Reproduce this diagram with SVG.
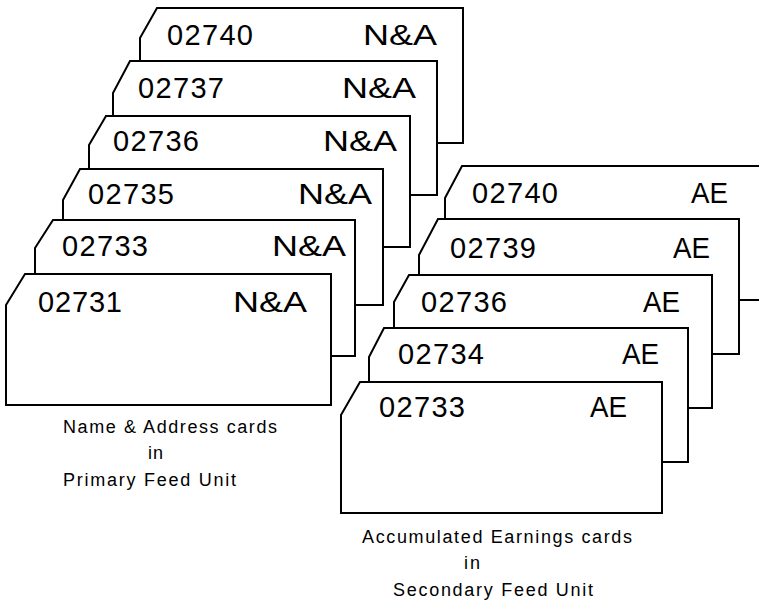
<svg xmlns="http://www.w3.org/2000/svg" width="759" height="603" viewBox="0 0 759 603">
<style>
.card{fill:#fff;stroke:#000;stroke-width:2;stroke-linejoin:miter}
.num{font-family:"Liberation Sans",Arial,sans-serif;font-size:29px;fill:#000}
.cap{font-family:"Liberation Sans",Arial,sans-serif;font-size:18px;fill:#000}
</style>
<rect width="759" height="603" fill="#fff"/>
<g id="na-stack">
<g id="na-02740"><polygon class="card" points="157,8 463,8 463,143 140,143 140,38"/><text class="num" x="167" y="45" textLength="86" lengthAdjust="spacing">02740</text><text class="num" x="363" y="45" textLength="74" lengthAdjust="spacingAndGlyphs">N&amp;A</text></g>
<g id="na-02737"><polygon class="card" points="130,61 437,61 437,195 113,195 113,93"/><text class="num" x="138" y="98" textLength="86" lengthAdjust="spacing">02737</text><text class="num" x="342" y="98" textLength="74" lengthAdjust="spacingAndGlyphs">N&amp;A</text></g>
<g id="na-02736"><polygon class="card" points="106,116 410,116 410,247 89,247 89,145"/><text class="num" x="113" y="151" textLength="86" lengthAdjust="spacing">02736</text><text class="num" x="323" y="151" textLength="74" lengthAdjust="spacingAndGlyphs">N&amp;A</text></g>
<g id="na-02735"><polygon class="card" points="80,169 383,169 383,305 63,305 63,200"/><text class="num" x="88" y="204" textLength="86" lengthAdjust="spacing">02735</text><text class="num" x="298" y="204" textLength="74" lengthAdjust="spacingAndGlyphs">N&amp;A</text></g>
<g id="na-02733"><polygon class="card" points="53,220 355,220 355,356 35,356 35,248"/><text class="num" x="62" y="256" textLength="86" lengthAdjust="spacing">02733</text><text class="num" x="272" y="256" textLength="74" lengthAdjust="spacingAndGlyphs">N&amp;A</text></g>
<g id="na-02731"><polygon class="card" points="25,274 331,274 331,405 6,405 6,305"/><text class="num" x="38" y="312" textLength="84" lengthAdjust="spacing">02731</text><text class="num" x="233" y="312" textLength="74" lengthAdjust="spacingAndGlyphs">N&amp;A</text></g>
</g>
<g id="ae-stack">
<g id="ae-02740"><polygon class="card" points="462,166 770,166 770,300 445,300 445,198"/><text class="num" x="472" y="203" textLength="86" lengthAdjust="spacing">02740</text><text class="num" x="691" y="203" textLength="37" lengthAdjust="spacingAndGlyphs">AE</text></g>
<g id="ae-02739"><polygon class="card" points="438,219 739,219 739,354 419,354 419,255"/><text class="num" x="450" y="258" textLength="86" lengthAdjust="spacing">02739</text><text class="num" x="673" y="258" textLength="37" lengthAdjust="spacingAndGlyphs">AE</text></g>
<g id="ae-02736"><polygon class="card" points="409,275 712,275 712,408 394,408 394,302"/><text class="num" x="421" y="312" textLength="86" lengthAdjust="spacing">02736</text><text class="num" x="643" y="312" textLength="37" lengthAdjust="spacingAndGlyphs">AE</text></g>
<g id="ae-02734"><polygon class="card" points="384,328 688,328 688,462 369,462 369,357"/><text class="num" x="398" y="364" textLength="86" lengthAdjust="spacing">02734</text><text class="num" x="622" y="364" textLength="37" lengthAdjust="spacingAndGlyphs">AE</text></g>
<g id="ae-02733"><polygon class="card" points="360,382 662,382 662,513 341,513 341,415"/><text class="num" x="379" y="417" textLength="86" lengthAdjust="spacing">02733</text><text class="num" x="590" y="417" textLength="37" lengthAdjust="spacingAndGlyphs">AE</text></g>
</g>
<g id="captions">
<text class="cap" x="63" y="433" textLength="214" lengthAdjust="spacing">Name &amp; Address cards</text>
<text class="cap" x="148" y="459" textLength="15" lengthAdjust="spacing">in</text>
<text class="cap" x="63" y="486" textLength="173" lengthAdjust="spacing">Primary Feed Unit</text>
<text class="cap" x="362" y="543" textLength="270" lengthAdjust="spacing">Accumulated Earnings cards</text>
<text class="cap" x="464" y="569" textLength="16" lengthAdjust="spacing">in</text>
<text class="cap" x="393" y="596" textLength="200" lengthAdjust="spacing">Secondary Feed Unit</text>
</g>
<g id="connectors"/>
</svg>
